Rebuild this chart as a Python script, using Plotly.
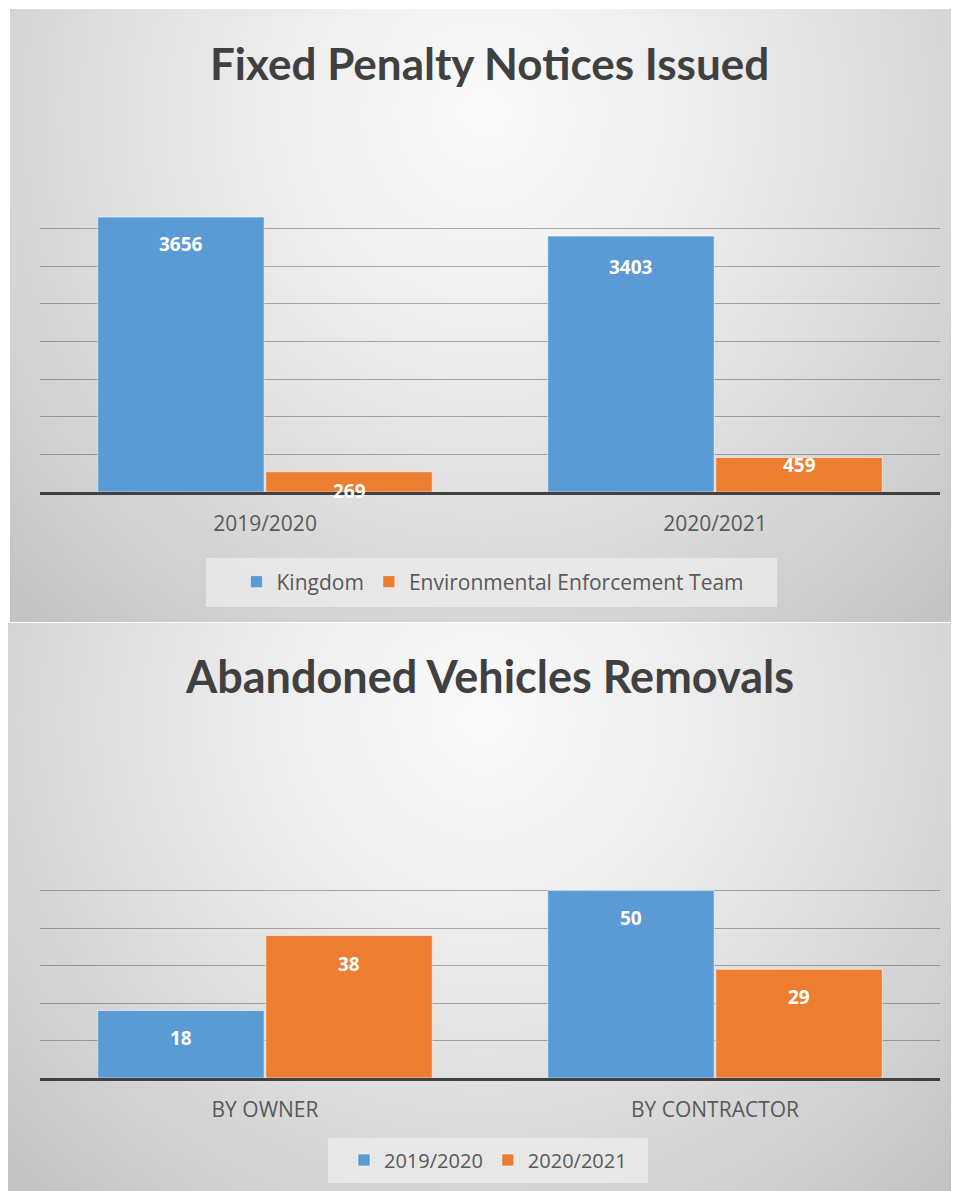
import base64, struct, zlib
import numpy as np
import plotly.graph_objects as go

# page body has an 8px default margin; figure is sized to the visible window area
OX, OY = 8, 8
W, H = 943, 1183

# ---------------- data ----------------
fpn_title = "Fixed Penalty Notices Issued"
fpn_categories = ["2019/2020", "2020/2021"]
fpn_series = ["Kingdom", "Environmental Enforcement Team"]
fpn_kingdom = [3656, 3403]
fpn_eet = [269, 459]

av_title = "Abandoned Vehicles Removals"
av_categories = ["BY OWNER", "BY CONTRACTOR"]
av_series = ["2019/2020", "2020/2021"]
av_2019 = [18, 50]
av_2020 = [38, 29]

# ---------------- style ----------------
BLUE = "#5B9BD5"
ORANGE = "#ED7D31"
TXT = "#595959"
TITLE_C = "#404040"
GRID_C = "rgba(60,60,60,0.40)"
TITLE_FONT = "Lato, Open Sans, sans-serif"
BODY_FONT = "Open Sans, Noto Sans, sans-serif"

BARGAP = 0.253
PLOT_X0, PLOT_X1 = 40, 940


def px_x(p):
    return (p - OX) / W


def px_y(p):
    return 1 - (p - OY) / H


def gradient_png(w, h, scale=4):
    ws, hs = max(2, w // scale), max(2, h // scale)
    xs = (np.arange(ws) + 0.5) / ws
    ys = (np.arange(hs) + 0.5) / hs
    X, Y = np.meshgrid(xs, ys)
    r = np.sqrt(((X - 0.5) / 0.55) ** 2 + ((Y - 0.17) / 0.9) ** 2)
    v = 250 - 40 * np.clip(r, 0, 1.25) ** 1.3
    arr = np.clip(v, 0, 255).astype(np.uint8)
    raw = b"".join(b"\x00" + arr[i].tobytes() for i in range(hs))

    def chunk(t, d):
        c = struct.pack(">I", len(d)) + t + d
        return c + struct.pack(">I", zlib.crc32(t + d) & 0xFFFFFFFF)

    png = (b"\x89PNG\r\n\x1a\n"
           + chunk(b"IHDR", struct.pack(">IIBBBBB", ws, hs, 8, 0, 0, 0, 0))
           + chunk(b"IDAT", zlib.compress(raw, 9))
           + chunk(b"IEND", b""))
    return "data:image/png;base64," + base64.b64encode(png).decode()


panels = [(10, 9, 949, 613), (8, 623, 951, 568)]
images = []
for (x0, y0, w, h) in panels:
    images.append(dict(source=gradient_png(w, h), xref="paper", yref="paper",
                       x=px_x(x0), y=px_y(y0), sizex=w / W, sizey=h / H,
                       xanchor="left", yanchor="top", sizing="stretch", layer="below"))

fig = go.Figure()

charts = [
    dict(cats=fpn_categories, names=fpn_series, vals=[fpn_kingdom, fpn_eet],
         xa="x", ya="y", legend="legend", ymax=4000, dtick=500,
         base_px=492, top_px=191, title=fpn_title, title_px=63,
         legend_box=(206, 558, 777, 607), legend_c=(493, 582),
         label_shift=[[-27, -31], [-19, -8]]),
    dict(cats=av_categories, names=av_series, vals=[av_2019, av_2020],
         xa="x2", ya="y2", legend="legend2", ymax=60, dtick=10,
         base_px=1078, top_px=853, title=av_title, title_px=676,
         legend_box=(328, 1138, 648, 1183), legend_c=(488, 1160),
         label_shift=[[-27, -27], [-28, -28]]),
]

colors = [BLUE, ORANGE]
annotations = []
shapes = []
layout_axes = {}
legends = {}
for ci, ch in enumerate(charts):
    for si in range(2):
        fig.add_trace(go.Bar(
            x=ch["cats"], y=ch["vals"][si], name=ch["names"][si],
            marker=dict(color=colors[si], line=dict(color="rgba(255,255,255,0.55)", width=1)),
            xaxis=ch["xa"], yaxis=ch["ya"], legend=ch["legend"], hoverinfo="skip",
        ))
    # data labels
    cat_w = (PLOT_X1 - PLOT_X0) / len(ch["cats"])
    bar_w = cat_w * (1 - BARGAP) / 2
    for si in range(2):
        for k, cat in enumerate(ch["cats"]):
            annotations.append(dict(
                x=cat, y=ch["vals"][si][k], xref=ch["xa"], yref=ch["ya"],
                text=f"<b>{ch['vals'][si][k]}</b>", showarrow=False,
                xshift=(si - 0.5) * bar_w, yshift=ch["label_shift"][si][k],
                font=dict(family=BODY_FONT, size=19, color="white"),
                xanchor="center", yanchor="middle"))
    # title
    annotations.append(dict(
        x=px_x(490), y=px_y(ch["title_px"]), xref="paper", yref="paper",
        text=f"<b>{ch['title']}</b>", showarrow=False,
        font=dict(family=TITLE_FONT, size=44 if ci == 0 else 45, color=TITLE_C),
        xanchor="center", yanchor="middle"))
    # legend box
    lx0, ly0, lx1, ly1 = ch["legend_box"]
    shapes.append(dict(type="rect", xref="paper", yref="paper",
                       x0=px_x(lx0), x1=px_x(lx1), y0=max(0.0, px_y(ly1)), y1=px_y(ly0),
                       fillcolor="rgba(236,236,236,0.75)", line=dict(width=0), layer="below"))
    suffix = "" if ci == 0 else "2"
    layout_axes["xaxis" + suffix] = dict(
        domain=[px_x(PLOT_X0), px_x(PLOT_X1)], anchor="y" + suffix,
        showline=True, linecolor="#404040", linewidth=3,
        ticks="outside", ticklen=11, tickcolor="rgba(0,0,0,0)",
        tickfont=dict(family=BODY_FONT, size=21, color=TXT),
        showgrid=False, fixedrange=True)
    layout_axes["yaxis" + suffix] = dict(
        domain=[px_y(ch["base_px"]), min(1.0, px_y(ch["top_px"]))], anchor="x" + suffix,
        range=[0, ch["ymax"] * 1.0005], dtick=ch["dtick"], tick0=0,
        showgrid=True, gridcolor=GRID_C, gridwidth=1,
        zeroline=False, showticklabels=False, ticks="", fixedrange=True)
    legends[ch["legend"]] = dict(
        orientation="h", xanchor="center", yanchor="middle",
        x=px_x(ch["legend_c"][0]), y=px_y(ch["legend_c"][1]),
        bgcolor="rgba(0,0,0,0)",
        font=dict(family=BODY_FONT, size=21 if ci == 0 else 20, color=TXT),
        itemclick=False, itemdoubleclick=False)

fig.update_layout(
    width=W, height=H, margin=dict(l=0, r=0, t=0, b=0),
    paper_bgcolor="white", plot_bgcolor="rgba(0,0,0,0)",
    barmode="group", bargap=BARGAP, bargroupgap=0.01,
    images=images, annotations=annotations, shapes=shapes,
    showlegend=True,
    **legends,
    **layout_axes,
)

fig.write_html("out.html")
